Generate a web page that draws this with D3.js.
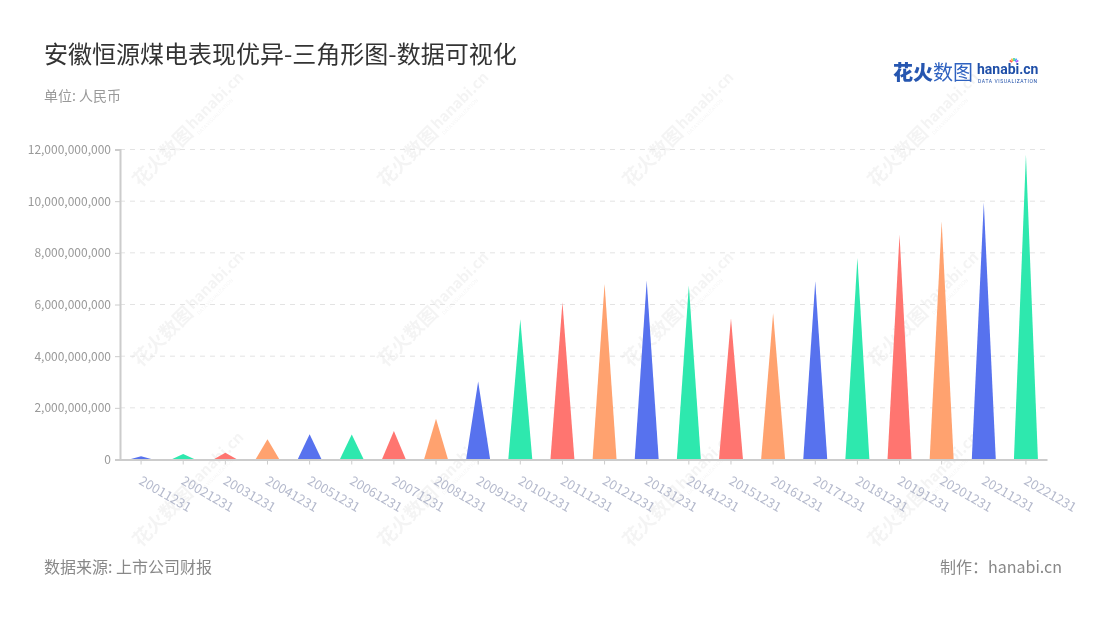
<!DOCTYPE html>
<html>
<head>
<meta charset="utf-8">
<script src="https://cdn.jsdelivr.net/npm/d3@7"></script>
<style>
  html, body { margin: 0; padding: 0; background: #fff; }
  svg { display: block; font-family: "Noto Sans CJK SC", "Noto Sans", sans-serif; }
</style>
</head>
<body>
<svg id="chart" width="1100" height="620"></svg>
<script>
const categories = ["20011231","20021231","20031231","20041231","20051231","20061231","20071231","20081231","20091231","20101231","20111231","20121231","20131231","20141231","20151231","20161231","20171231","20181231","20191231","20201231","20211231","20221231"];
const values = [0.13e9, 0.21e9, 0.26e9, 0.78e9, 0.98e9, 0.97e9, 1.10e9, 1.58e9, 3.02e9, 5.43e9, 6.09e9, 6.80e9, 6.92e9, 6.74e9, 5.47e9, 5.67e9, 6.89e9, 7.80e9, 8.70e9, 9.22e9, 9.95e9, 11.80e9];
const yTicks = [0, 2e9, 4e9, 6e9, 8e9, 10e9, 12e9];
const palette = ["#5772EE", "#2EE8AE", "#FF7570", "#FFA26F"];
const titleText = "安徽恒源煤电表现优异-三角形图-数据可视化";
const unitText = "单位: 人民币";
const sourceText = "数据来源: 上市公司财报";
const makerText = "制作：hanabi.cn";

const svg = d3.select("#chart");
const plotLeft = 120, plotRight = 1047, plotTop = 149.5, plotBottom = 459.5;

// watermarks
const wmX = [180, 425, 670, 915], wmY = [140, 320, 500];
const wm = svg.append("g").attr("fill", "#000").attr("opacity", 0.045);
wmY.forEach(yy => wmX.forEach(xx => {
  const g = wm.append("g").attr("transform", `translate(${xx},${yy}) rotate(-45)`);
  g.append("text").attr("x", -62).attr("y", 6).attr("font-size", 19).attr("font-weight", 700).text("花火数图");
  g.append("text").attr("x", 16).attr("y", 2).attr("font-size", 15).attr("font-weight", 700).text("hanabi.cn");
  g.append("text").attr("x", 17).attr("y", 10).attr("font-size", 5).text("DATA VISUALIZATION");
}));

const x = d3.scaleBand().domain(categories).range([plotLeft, plotRight]);
const y = d3.scaleLinear().domain([0, 12e9]).range([plotBottom, plotTop]);

// grid
svg.append("g").selectAll("line").data(yTicks.filter(d => d > 0)).join("line")
  .attr("x1", plotLeft).attr("x2", plotRight)
  .attr("y1", d => y(d)).attr("y2", d => y(d))
  .attr("stroke", "#e3e3e3").attr("stroke-dasharray", "5,5");

// y axis
const yAxis = svg.append("g").attr("transform", `translate(${plotLeft},0)`)
  .call(d3.axisLeft(y).tickValues(yTicks).tickSize(5).tickPadding(4).tickFormat(d3.format(",")));
yAxis.select(".domain").attr("stroke", "#cccccc").attr("stroke-width", 2);
yAxis.selectAll(".tick line").attr("stroke", "#cccccc");
yAxis.selectAll("text").attr("fill", "#999").attr("font-size", 12).attr("font-family", "'Noto Sans CJK SC', sans-serif");

// triangles
const triW = 24;
svg.append("g").selectAll("path").data(values).join("path")
  .attr("d", (d, i) => {
    const cx = x(categories[i]) + x.bandwidth() / 2;
    return `M${cx - triW / 2},${y(0)}L${cx},${y(d)}L${cx + triW / 2},${y(0)}Z`;
  })
  .attr("fill", (d, i) => palette[i % palette.length]);

// x axis
const xAxis = svg.append("g").attr("transform", `translate(0,${plotBottom})`)
  .call(d3.axisBottom(x).tickSize(5).tickSizeOuter(0));
xAxis.select(".domain").attr("stroke", "#cccccc").attr("stroke-width", 2);
xAxis.selectAll(".tick line").attr("stroke", "#cccccc");
xAxis.selectAll("text")
  .attr("fill", "#b4b9cc").attr("font-size", 13).attr("font-family", "'Noto Sans CJK SC', sans-serif")
  .attr("text-anchor", "start").attr("dy", null).attr("y", 0)
  .attr("transform", "translate(-3,24) rotate(30)");

// titles
svg.append("text").attr("x", 44).attr("y", 63).attr("font-size", 24).attr("fill", "#333").text(titleText);
svg.append("text").attr("x", 44).attr("y", 101).attr("font-size", 14).attr("fill", "#999").text(unitText);
svg.append("text").attr("x", 44).attr("y", 573).attr("font-size", 16).attr("fill", "#888").text(sourceText);
svg.append("text").attr("x", 1062).attr("y", 573).attr("font-size", 16).attr("fill", "#888").attr("text-anchor", "end").text(makerText);

// logo
const logo = svg.append("g");
logo.append("text").attr("x", 893).attr("y", 80).attr("font-size", 20).attr("font-weight", 900).attr("fill", "#2656b0").text("花火");
logo.append("text").attr("x", 933).attr("y", 80).attr("font-size", 20).attr("fill", "#2f62c0").text("数图");
logo.append("text").attr("x", 977).attr("y", 74).attr("font-size", 14).attr("font-weight", 700).attr("fill", "#1f4fa8").attr("font-family", "Roboto, sans-serif").text("hanabi.cn");
logo.append("text").attr("x", 978).attr("y", 82.5).attr("font-size", 5).attr("fill", "#1f4fa8").attr("letter-spacing", 0.6).attr("font-family", "Roboto, sans-serif").text("DATA VISUALIZATION");
const sparkColors = ["#ff5a5a", "#ffb03a", "#3ad28a", "#3aa0ff", "#b05aff"];
sparkColors.forEach((c, i) => {
  const a = (-150 + i * 30) * Math.PI / 180;
  logo.append("line").attr("x1", 1014 + Math.cos(a) * 2).attr("y1", 63 + Math.sin(a) * 2)
    .attr("x2", 1014 + Math.cos(a) * 5).attr("y2", 63 + Math.sin(a) * 5)
    .attr("stroke", c).attr("stroke-width", 1.5);
});
</script>
</body>
</html>
